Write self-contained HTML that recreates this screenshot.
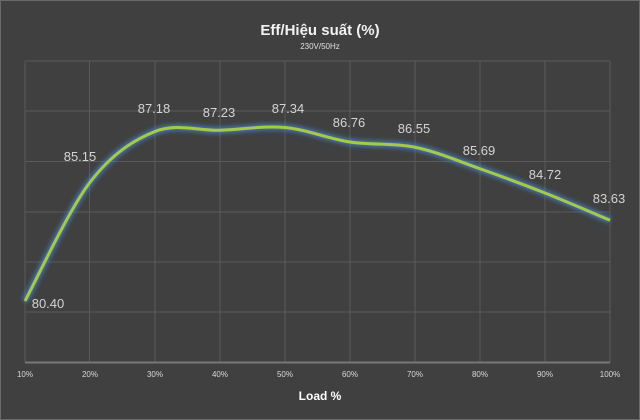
<!DOCTYPE html>
<html><head><meta charset="utf-8"><style>
html,body{margin:0;padding:0;background:#404040;}
svg{display:block;font-family:"Liberation Sans",sans-serif;}
</style></head><body>
<svg width="640" height="420" viewBox="0 0 640 420" xmlns="http://www.w3.org/2000/svg">
<defs>
<filter id="glow" x="-10%" y="-10%" width="120%" height="120%">
<feGaussianBlur stdDeviation="2.5"/>
</filter>
</defs>
<rect x="0" y="0" width="640" height="420" fill="#404040"/>
<rect x="0.5" y="0.5" width="639" height="419" fill="none" stroke="#6a6a6a"/>
<g stroke="#5a5a5a" stroke-width="1">
<line x1="25" y1="61" x2="610" y2="61"/>
<line x1="25" y1="111" x2="610" y2="111"/>
<line x1="25" y1="161.5" x2="610" y2="161.5"/>
<line x1="25" y1="212" x2="610" y2="212"/>
<line x1="25" y1="262" x2="610" y2="262"/>
<line x1="25" y1="312" x2="610" y2="312"/>
<line x1="25" y1="61" x2="25" y2="362"/>
<line x1="89.5" y1="61" x2="89.5" y2="362"/>
<line x1="155" y1="61" x2="155" y2="362"/>
<line x1="220" y1="61" x2="220" y2="362"/>
<line x1="285" y1="61" x2="285" y2="362"/>
<line x1="350" y1="61" x2="350" y2="362"/>
<line x1="415" y1="61" x2="415" y2="362"/>
<line x1="480" y1="61" x2="480" y2="362"/>
<line x1="545" y1="61" x2="545" y2="362"/>
<line x1="610" y1="61" x2="610" y2="362"/>
</g>
<line x1="25" y1="362.5" x2="610" y2="362.5" stroke="#777" stroke-width="2"/>
<text x="320" y="35" fill="#f2f2f2" font-size="15" font-weight="bold" text-anchor="middle">Eff/Hiệu suất (%)</text>
<text x="320" y="49" fill="#e0e0e0" font-size="8" text-anchor="middle">230V/50Hz</text>
<g fill="#d8d8d8" font-size="8" text-anchor="middle">
<text x="25" y="377">10%</text><text x="90" y="377">20%</text><text x="155" y="377">30%</text>
<text x="220" y="377">40%</text><text x="285" y="377">50%</text><text x="350" y="377">60%</text>
<text x="415" y="377">70%</text><text x="480" y="377">80%</text><text x="545" y="377">90%</text>
<text x="610" y="377">100%</text>
</g>
<text x="320" y="400" fill="#ffffff" font-size="12" font-weight="bold" text-anchor="middle">Load %</text>
<path id="c" d="M25,301 C35.8,281.2 68.3,210.5 90,182.25 C111.7,154 133.3,140.2 155,131.5 C176.7,122.8 198.3,130.9 220,130.25 C241.7,129.6 263.3,125.5 285,127.5 C306.7,129.5 328.3,138.7 350,142 C371.7,145.3 393.3,142.8 415,147.25 C436.7,151.7 458.3,161.1 480,168.75 C501.7,176.4 523.3,184.4 545,193 C566.7,201.6 599.2,215.7 610,220.25" fill="none" stroke="#4a8ad0" stroke-width="6" filter="url(#glow)" opacity="0.8"/>
<path d="M25,301 C35.8,281.2 68.3,210.5 90,182.25 C111.7,154 133.3,140.2 155,131.5 C176.7,122.8 198.3,130.9 220,130.25 C241.7,129.6 263.3,125.5 285,127.5 C306.7,129.5 328.3,138.7 350,142 C371.7,145.3 393.3,142.8 415,147.25 C436.7,151.7 458.3,161.1 480,168.75 C501.7,176.4 523.3,184.4 545,193 C566.7,201.6 599.2,215.7 610,220.25" fill="none" stroke="#a6c94c" stroke-width="3"/>
<g fill="#d4d4d4" font-size="13" text-anchor="middle">
<text x="48" y="308">80.40</text>
<text x="80" y="161">85.15</text>
<text x="154" y="113">87.18</text>
<text x="219" y="117">87.23</text>
<text x="288" y="113">87.34</text>
<text x="349" y="127">86.76</text>
<text x="414" y="133">86.55</text>
<text x="479" y="155">85.69</text>
<text x="545" y="179">84.72</text>
<text x="609" y="203">83.63</text>
</g>
</svg>
</body></html>
